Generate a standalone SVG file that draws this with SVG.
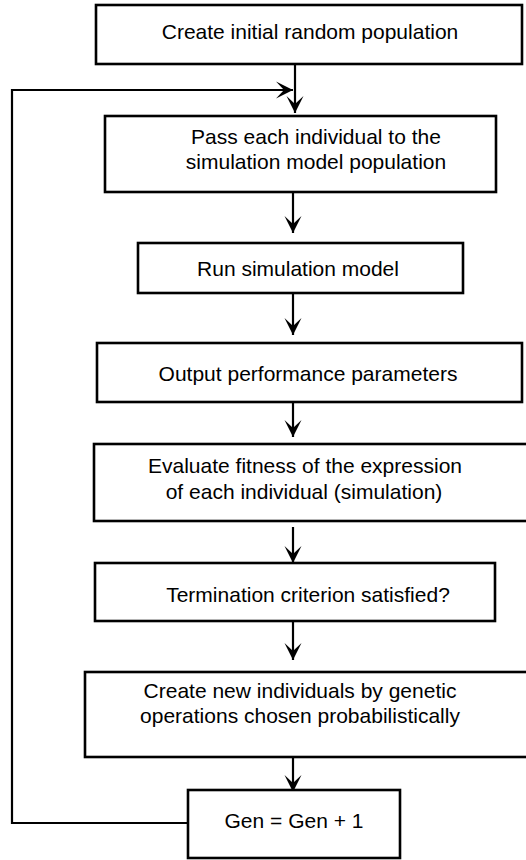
<svg xmlns="http://www.w3.org/2000/svg" width="526" height="860" viewBox="0 0 526 860">
  <style>
    .box { fill: #ffffff; stroke: #000000; stroke-width: 2.6; }
    .lbl { font-family: "Liberation Sans", Arial, sans-serif; font-size: 21px; fill: #000000; text-anchor: middle; }
    .link { fill: none; stroke: #000000; stroke-width: 2.2; }
  </style>
  <defs>
    <!-- barbed arrowhead, tip at the path end -->
    <marker id="head" viewBox="-18 -10 19 20" refX="0" refY="0" markerWidth="19" markerHeight="20" markerUnits="userSpaceOnUse" orient="auto">
      <path d="M0,0 L-17,-8.5 L-9,0 L-17,8.5 Z" fill="#000000"/>
    </marker>
  </defs>

  <rect width="526" height="860" fill="#ffffff"/>

  <g id="connectors">
    <line class="link" x1="295" y1="64" x2="295" y2="113" marker-end="url(#head)"/>
    <path class="link" d="M188,823 H12 V90 H293" stroke-width="2.8" marker-end="url(#head)"/>
    <line class="link" x1="293" y1="192" x2="293" y2="233" marker-end="url(#head)"/>
    <line class="link" x1="293" y1="293" x2="293" y2="335" marker-end="url(#head)"/>
    <line class="link" x1="293" y1="402" x2="293" y2="437" marker-end="url(#head)"/>
    <line class="link" x1="293" y1="527" x2="293" y2="563" marker-end="url(#head)"/>
    <line class="link" x1="293" y1="621" x2="293" y2="660" marker-end="url(#head)"/>
    <line class="link" x1="293" y1="757" x2="293" y2="792" marker-end="url(#head)"/>
  </g>

  <g id="init-population">
    <rect class="box" x="96" y="5" width="426" height="59"/>
    <text class="lbl" x="310" y="39">Create initial random population</text>
  </g>

  <g id="pass-individual">
    <rect class="box" x="105" y="116" width="391" height="76"/>
    <text class="lbl" x="316" y="144">Pass each individual to the</text>
    <text class="lbl" x="316" y="169">simulation model population</text>
  </g>

  <g id="run-model">
    <rect class="box" x="138" y="243" width="325" height="50"/>
    <text class="lbl" x="298" y="276">Run simulation model</text>
  </g>

  <g id="output-params">
    <rect class="box" x="97" y="343" width="425" height="59"/>
    <text class="lbl" x="308" y="381">Output performance parameters</text>
  </g>

  <g id="evaluate-fitness">
    <rect class="box" x="94" y="444" width="434" height="77"/>
    <text class="lbl" x="305" y="473">Evaluate fitness of the expression</text>
    <text class="lbl" x="304" y="499">of each individual (simulation)</text>
  </g>

  <g id="termination">
    <rect class="box" x="95" y="563" width="400" height="58"/>
    <text class="lbl" x="308" y="602">Termination criterion satisfied?</text>
  </g>

  <g id="new-individuals">
    <rect class="box" x="85" y="672" width="443" height="85"/>
    <text class="lbl" x="300" y="698">Create new individuals by genetic</text>
    <text class="lbl" x="300" y="723">operations chosen probabilistically</text>
  </g>

  <g id="next-generation">
    <rect class="box" x="188" y="790" width="212" height="68"/>
    <text class="lbl" x="294" y="828">Gen = Gen + 1</text>
  </g>
</svg>
